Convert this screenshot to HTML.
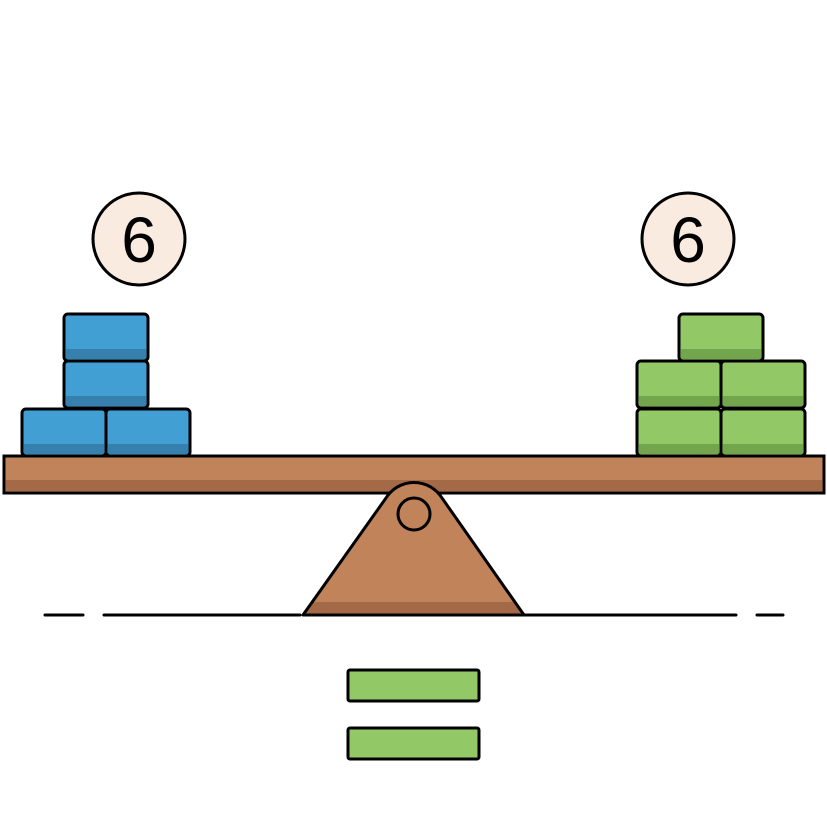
<!DOCTYPE html>
<html><head><style>body{margin:0;background:#fff}</style></head><body>
<svg width="827" height="827" viewBox="0 0 827 827" xmlns="http://www.w3.org/2000/svg">
<defs>
<g id="b"><rect x="0" y="0" width="84" height="47" rx="4" fill="#419fd3"/><rect x="2" y="35" width="80" height="10" fill="#3580ad"/><rect x="0" y="0" width="84" height="47" rx="4" fill="none" stroke="#000" stroke-width="3"/></g>
<g id="g"><rect x="0" y="0" width="84" height="47" rx="4" fill="#92c865"/><rect x="2" y="35" width="80" height="10" fill="#73a64c"/><rect x="0" y="0" width="84" height="47" rx="4" fill="none" stroke="#000" stroke-width="3"/></g>
</defs>
<g stroke="#000" stroke-width="3" stroke-linecap="round">
<line x1="45" y1="615" x2="83" y2="615"/><line x1="104" y1="615" x2="300" y2="615"/>
<line x1="525" y1="615" x2="736" y2="615"/><line x1="757" y1="615" x2="783" y2="615"/>
</g>
<rect x="4" y="456" width="820" height="37" fill="#c1835a" stroke="#000" stroke-width="3"/>
<rect x="6" y="480" width="816" height="11" fill="#a46a48"/>
<rect x="4" y="456" width="820" height="37" fill="none" stroke="#000" stroke-width="3"/>
<path d="M303 615 L386 498 A33 33 0 0 1 442 498 L524 615 Z" fill="#c1835a"/>
<path d="M312 602 L515 602 L524 615 L303 615 Z" fill="#a46a48"/>
<path d="M303 615 L386 498 A33 33 0 0 1 442 498 L524 615 Z" fill="none" stroke="#000" stroke-width="3" stroke-linejoin="round"/>
<circle cx="414" cy="514" r="16" fill="none" stroke="#000" stroke-width="3"/>
<use href="#b" x="64" y="314"/><use href="#b" x="64" y="361"/>
<use href="#b" x="22" y="409"/><use href="#b" x="106" y="409"/>
<use href="#g" x="679" y="314"/><use href="#g" x="637" y="361"/><use href="#g" x="721" y="361"/>
<use href="#g" x="637" y="409"/><use href="#g" x="721" y="409"/>
<circle cx="139" cy="239" r="46" fill="#f9ebe0" stroke="#000" stroke-width="3"/>
<circle cx="688" cy="239" r="46" fill="#f9ebe0" stroke="#000" stroke-width="3"/>
<text x="139" y="262" font-family="Liberation Sans, sans-serif" font-size="64" text-anchor="middle">6</text>
<text x="688" y="262" font-family="Liberation Sans, sans-serif" font-size="64" text-anchor="middle">6</text>
<rect x="348" y="670" width="131" height="31" rx="2" fill="#92c865" stroke="#000" stroke-width="3"/>
<rect x="348" y="728" width="131" height="31" rx="2" fill="#92c865" stroke="#000" stroke-width="3"/>
</svg>
</body></html>
